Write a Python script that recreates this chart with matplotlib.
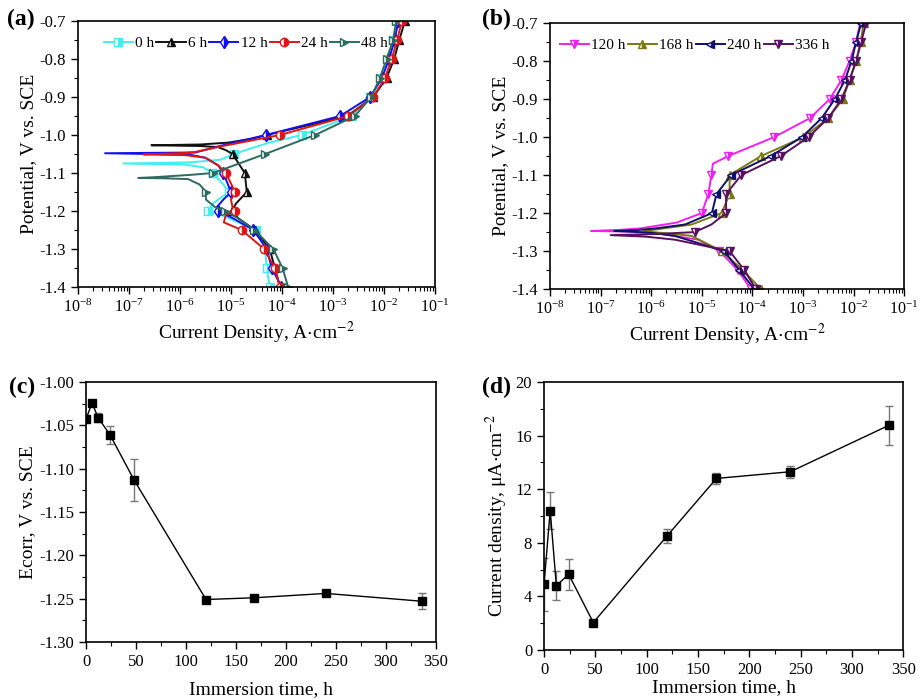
import numpy as np
import matplotlib
matplotlib.use("Agg")
import matplotlib.pyplot as plt
from matplotlib.ticker import MultipleLocator, FormatStrFormatter, LogLocator, NullFormatter

plt.rcParams["font.family"] = ["Liberation Serif", "DejaVu Serif"]
plt.rcParams["mathtext.fontset"] = "stix"
plt.rcParams["axes.unicode_minus"] = False

# ---- (a) polarization curves, early immersion (E in V vs SCE, log10 of i in A/cm2)
E_0h = [-1.40, -1.35, -1.30, -1.25, -1.23, -1.21, -1.20, -1.18, -1.15, -1.13, -1.10, -1.085, -1.078,
        -1.075, -1.072, -1.065, -1.05, -1.02, -1.00, -0.95, -0.90, -0.85, -0.80, -0.75, -0.70]
logi_0h = [-4.24, -4.30, -4.33, -4.50, -4.85, -5.20, -5.46, -5.35, -5.04, -5.15, -5.36, -5.55, -5.90,
           -7.11, -5.80, -5.20, -4.95, -4.25, -3.61, -2.63, -2.27, -2.05, -1.92, -1.82, -1.76]

E_6h = [-1.40, -1.35, -1.30, -1.25, -1.22, -1.20, -1.18, -1.15, -1.10, -1.05, -1.04, -1.032, -1.029,
        -1.027, -1.025, -1.02, -1.01, -1.00, -0.95, -0.90, -0.85, -0.80, -0.75, -0.70]
logi_6h = [-4.04, -4.14, -4.24, -4.53, -4.85, -4.99, -4.90, -4.69, -4.73, -4.97, -5.10, -5.25, -5.60,
           -6.56, -5.60, -5.05, -4.60, -4.30, -2.72, -2.21, -1.95, -1.80, -1.70, -1.59]

E_12h = [-1.40, -1.35, -1.30, -1.25, -1.22, -1.20, -1.19, -1.17, -1.15, -1.10, -1.08, -1.06, -1.052,
         -1.048, -1.046, -1.03, -1.02, -1.00, -0.95, -0.90, -0.85, -0.80, -0.75, -0.70]
logi_12h = [-4.01, -4.20, -4.30, -4.56, -4.95, -5.25, -5.28, -5.15, -5.00, -5.15, -5.25, -5.50, -5.80,
            -7.47, -5.70, -5.25, -4.95, -4.31, -2.86, -2.27, -2.04, -1.90, -1.79, -1.72]

E_24h = [-1.40, -1.35, -1.30, -1.25, -1.23, -1.21, -1.20, -1.19, -1.17, -1.15, -1.10, -1.08, -1.06,
         -1.053, -1.051, -1.048, -1.045, -1.03, -1.00, -0.95, -0.90, -0.85, -0.80, -0.75, -0.70]
logi_24h = [-4.04, -4.14, -4.35, -4.79, -5.14, -5.10, -4.93, -4.97, -5.00, -4.92, -5.10, -5.25, -5.50,
            -5.90, -6.72, -6.00, -5.71, -5.20, -4.04, -2.70, -2.21, -1.98, -1.85, -1.74, -1.65]

E_48h = [-1.40, -1.35, -1.30, -1.25, -1.22, -1.20, -1.19, -1.17, -1.15, -1.14, -1.13, -1.116, -1.114,
         -1.113, -1.111, -1.105, -1.10, -1.05, -1.00, -0.95, -0.90, -0.85, -0.80, -0.75, -0.70]
logi_48h = [-3.88, -3.99, -4.17, -4.54, -4.85, -5.12, -5.31, -5.49, -5.50, -5.55, -5.62, -5.84, -6.30,
            -6.82, -6.50, -5.80, -5.35, -4.33, -3.35, -2.57, -2.25, -2.08, -1.95, -1.82, -1.76]

# ---- (b) polarization curves, long immersion
E_120h = [-1.40, -1.35, -1.30, -1.27, -1.255, -1.249, -1.247, -1.244, -1.24, -1.225, -1.20, -1.15,
          -1.10, -1.07, -1.05, -1.00, -0.95, -0.90, -0.85, -0.80, -0.75, -0.70]
logi_120h = [-4.03, -4.29, -4.65, -5.07, -5.80, -6.30, -7.19, -6.60, -6.20, -5.50, -5.00, -4.87,
             -4.81, -4.78, -4.48, -3.57, -2.86, -2.47, -2.24, -2.08, -1.95, -1.87]

E_168h = [-1.40, -1.35, -1.30, -1.26, -1.252, -1.248, -1.246, -1.245, -1.23, -1.20, -1.15, -1.10,
          -1.05, -1.00, -0.95, -0.90, -0.85, -0.80, -0.75, -0.70]
logi_168h = [-3.83, -4.19, -4.61, -5.20, -5.80, -6.15, -6.05, -6.01, -5.20, -4.61, -4.45, -4.45,
             -3.83, -2.99, -2.50, -2.21, -2.08, -1.95, -1.86, -1.80]

E_240h = [-1.40, -1.35, -1.30, -1.26, -1.252, -1.249, -1.247, -1.245, -1.24, -1.23, -1.20, -1.15,
          -1.10, -1.05, -1.00, -0.95, -0.90, -0.85, -0.80, -0.75, -0.70]
logi_240h = [-3.96, -4.26, -4.56, -5.53, -6.00, -6.40, -6.73, -6.30, -5.90, -5.33, -4.80, -4.71,
             -4.42, -3.64, -3.02, -2.63, -2.37, -2.17, -2.04, -1.95, -1.85]

E_336h = [-1.40, -1.35, -1.30, -1.27, -1.262, -1.258, -1.255, -1.25, -1.23, -1.20, -1.15, -1.10,
          -1.05, -1.00, -0.95, -0.90, -0.85, -0.80, -0.75, -0.70]
logi_336h = [-3.93, -4.16, -4.45, -5.53, -6.10, -6.80, -5.90, -5.14, -4.81, -4.52, -4.52, -4.22,
             -3.44, -2.89, -2.50, -2.24, -2.08, -1.95, -1.85, -1.75]

# ---- (c), (d) fitted values vs immersion time
time_h = [0, 6, 12, 24, 48, 120, 168, 240, 336]
ecorr = [-1.043, -1.024, -1.041, -1.061, -1.113, -1.251, -1.249, -1.244, -1.253]
ecorr_err = [0.003, 0.002, 0.005, 0.010, 0.024, 0.002, 0.002, 0.003, 0.009]
icorr = [4.9, 10.4, 4.8, 5.65, 2.05, 8.52, 12.8, 13.3, 16.76]
icorr_err = [2.0, 1.37, 1.1, 1.15, 0.1, 0.5, 0.4, 0.45, 1.43]

series_a = [
    ("0 h", E_0h, logi_0h, "#40F0F0", "s"),
    ("6 h", E_6h, logi_6h, "#111111", "^"),
    ("12 h", E_12h, logi_12h, "#1010F0", "d"),
    ("24 h", E_24h, logi_24h, "#E01515", "o"),
    ("48 h", E_48h, logi_48h, "#2E6A60", ">"),
]
series_b = [
    ("120 h", E_120h, logi_120h, "#F020F0", "v"),
    ("168 h", E_168h, logi_168h, "#7A7A10", "^"),
    ("240 h", E_240h, logi_240h, "#10106A", "<"),
    ("336 h", E_336h, logi_336h, "#5A1060", "v"),
]

TICK_FS = 12
LABEL_FS = 14


def style_axes(ax):
    ax.tick_params(which="both", direction="out", labelsize=TICK_FS, top=False, right=False)
    ax.tick_params(which="major", length=5, width=1)
    ax.tick_params(which="minor", length=3, width=0.8)
    for sp in ax.spines.values():
        sp.set_linewidth(1.2)


def polarization(ax, series, legend_anchor):
    for label, E, logi, color, marker in series:
        E = np.array(E)
        i = 10.0 ** np.array(logi)
        on_grid = np.isclose(np.round(E / 0.05) * 0.05, E, atol=1e-4)
        ax.plot(i, E, color=color, lw=1.4, marker=marker, ms=6, markevery=list(np.where(on_grid)[0]),
                fillstyle="right", markerfacecoloralt="white", mec=color, mew=1.0, label=label)
    ax.set_xscale("log")
    ax.set_xlim(1e-8, 1e-1)
    ax.set_ylim(-1.4, -0.7)
    ax.yaxis.set_major_locator(MultipleLocator(0.1))
    ax.yaxis.set_minor_locator(MultipleLocator(0.05))
    ax.yaxis.set_major_formatter(FormatStrFormatter("%.1f"))
    ax.xaxis.set_major_locator(LogLocator(base=10, numticks=10))
    ax.xaxis.set_minor_locator(LogLocator(base=10, subs=np.arange(2, 10), numticks=10))
    ax.xaxis.set_minor_formatter(NullFormatter())
    ax.set_xlabel(r"Current Density, A$\cdot$cm$^{-2}$", fontsize=LABEL_FS, labelpad=3)
    ax.set_ylabel("Potential, V vs. SCE", fontsize=LABEL_FS, labelpad=2)
    style_axes(ax)
    ax.tick_params(axis="x", which="major", labelsize=11.5)
    ax.legend(ncol=len(series), loc="upper left", bbox_to_anchor=legend_anchor, frameon=False,
              fontsize=11, handlelength=1.9, handletextpad=0.15, columnspacing=0.15, borderaxespad=0)


fig = plt.figure(figsize=(9.21, 7.0), dpi=100)

ax_a = fig.add_axes([0.0847, 0.590, 0.3876, 0.380])
polarization(ax_a, series_a, (0.055, 0.965))

ax_b = fig.add_axes([0.5972, 0.587, 0.3845, 0.380])
polarization(ax_b, series_b, (0.01, 0.965))

ax_c = fig.add_axes([0.0934, 0.0829, 0.380, 0.3714])
ax_c.errorbar(time_h, ecorr, yerr=ecorr_err, color="black", lw=1.0, marker="s", ms=6,
              ecolor="#777777", elinewidth=1.0, capsize=3, capthick=1.0)
ax_c.set_xlim(0, 350)
ax_c.set_ylim(-1.30, -1.00)
ax_c.xaxis.set_major_locator(MultipleLocator(50))
ax_c.xaxis.set_minor_locator(MultipleLocator(25))
ax_c.yaxis.set_major_locator(MultipleLocator(0.05))
ax_c.yaxis.set_minor_locator(MultipleLocator(0.025))
ax_c.yaxis.set_major_formatter(FormatStrFormatter("%.2f"))
ax_c.set_xlabel("Immersion time, h", fontsize=LABEL_FS, labelpad=8)
ax_c.set_ylabel("Ecorr, V vs. SCE", fontsize=LABEL_FS, labelpad=2)
style_axes(ax_c)

ax_d = fig.add_axes([0.5907, 0.0714, 0.390, 0.383])
ax_d.errorbar(time_h, icorr, yerr=icorr_err, color="black", lw=1.0, marker="s", ms=6,
              ecolor="#777777", elinewidth=1.0, capsize=3, capthick=1.0)
ax_d.set_xlim(0, 350)
ax_d.set_ylim(0, 20)
ax_d.xaxis.set_major_locator(MultipleLocator(50))
ax_d.xaxis.set_minor_locator(MultipleLocator(25))
ax_d.yaxis.set_major_locator(MultipleLocator(4))
ax_d.yaxis.set_minor_locator(MultipleLocator(2))
ax_d.set_xlabel("Immersion time, h", fontsize=LABEL_FS, labelpad=1)
ax_d.set_ylabel("Current density, μA" + r"$\cdot$cm$^{-2}$", fontsize=LABEL_FS, labelpad=4)
style_axes(ax_d)

for txt, x, y in [("(a)", 0.008, 0.972), ("(b)", 0.523, 0.972), ("(c)", 0.010, 0.447), ("(d)", 0.523, 0.447)]:
    fig.text(x, y, txt, fontsize=17, fontweight="bold", va="center", ha="left")

fig.savefig("out.png", dpi=100)
